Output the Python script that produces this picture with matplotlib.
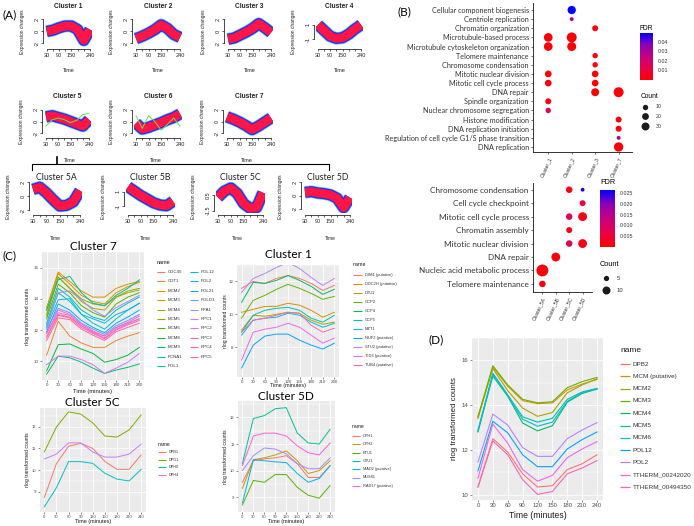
import numpy as np
import matplotlib
matplotlib.use("Agg")
import matplotlib.pyplot as plt
from matplotlib.colors import LinearSegmentedColormap, Normalize
from matplotlib.colorbar import ColorbarBase

plt.rcParams['font.family'] = ['Liberation Sans', 'DejaVu Sans']

W, H = 694, 526
fig = plt.figure(figsize=(W / 100, H / 100), dpi=100)

# overlay in pixel coords for labels / legends
ov = fig.add_axes([0, 0, 1, 1], zorder=10)
ov.set_xlim(0, W)
ov.set_ylim(H, 0)
ov.axis('off')


def px_axes(x0, y0, x1, y1):
    return fig.add_axes([x0 / W, 1 - y1 / H, (x1 - x0) / W, (y1 - y0) / H])


def gg_hue(n):
    # ggplot2 default hue palette (hcl, l=65, c=100)
    cols = []
    for h in np.linspace(15, 375, n + 1)[:-1]:
        L, C = 65.0, 100.0
        u, v = C * np.cos(np.radians(h)), C * np.sin(np.radians(h))
        Y = ((L + 16) / 116) ** 3
        up, vp = u / (13 * L) + 0.19784, v / (13 * L) + 0.46834
        X = Y * 9 * up / (4 * vp)
        Z = Y * (12 - 3 * up - 20 * vp) / (4 * vp)
        rgb = np.array([3.2406 * X - 1.5372 * Y - 0.4986 * Z,
                        -0.9689 * X + 1.8758 * Y + 0.0415 * Z,
                        0.0557 * X - 0.2040 * Y + 1.0570 * Z])
        rgb = np.where(rgb > 0.0031308, 1.055 * np.abs(rgb) ** (1 / 2.4) - 0.055, 12.92 * rgb)
        cols.append(tuple(np.clip(rgb, 0, 1)))
    return cols


# ================= DATA =================
# (A) mfuzz cluster centres
mf_time = [30, 60, 90, 120, 150, 180, 210, 240]
c1_prof = [0.0, 0.2, 0.6, 0.9, 0.9, 0.3, -1.5, 0.3]
c2_prof = [-1.2, -0.8, -0.3, 0.3, 1.1, 0.5, -0.5, -1.0]
c3_prof = [-1.3, -1.1, -0.6, -0.1, 0.5, 1.3, 0.6, -0.2]
c4_prof = [1.0, 0.2, -0.6, -0.9, -0.8, -0.3, 0.4, 1.0]
c5_prof = [0.8, 1.0, 0.7, 0.4, 0.0, -0.4, -0.8, 0.3]
c6_prof = [-0.3, -1.3, -1.0, -0.6, -0.2, 0.3, 0.7, 1.3]
c7_prof = [0.8, 0.4, -0.1, -0.7, -1.4, -0.8, -0.1, 0.6]
c5a_prof = [1.0, 1.3, 0.5, -0.5, -1.4, -1.3, -0.8, 0.8]
c5b_prof = [1.7, 1.1, 0.5, 0.0, -0.5, -0.8, -0.9, -0.3]
c5c_prof = [0.2, 1.0, 1.4, 0.7, -0.6, -1.2, -1.1, 0.8]
c5d_prof = [0.5, 0.6, 0.4, 0.3, 0.1, -0.4, -1.8, -0.3]
c5_green = [-0.8, 0.3, 0.6, 0.3, -0.2, 0.2, 1.2, 1.4]
c6_green = [1.0, -1.2, 1.0, 0.0, -1.5, -0.5, 0.6, -0.8]

# (B) GO enrichment dot plots
b1_terms = ['Cellular component biogenesis', 'Centriole replication', 'Chromatin organization',
            'Microtubule-based process', 'Microtubule cytoskeleton organization',
            'Telomere maintenance', 'Chromosome condensation', 'Mitotic nuclear division',
            'Mitotic cell cycle process', 'DNA repair', 'Spindle organization',
            'Nuclear chromosome segregation', 'Histone modification', 'DNA replication initiation',
            'Regulation of cell cycle G1/S phase transition', 'DNA replication']
b1_clusters = ['Cluster_1', 'Cluster_2', 'Cluster_3', 'Cluster_7']
b1_term = ['Cellular component biogenesis', 'Centriole replication', 'Chromatin organization',
           'Microtubule-based process', 'Microtubule-based process',
           'Microtubule cytoskeleton organization', 'Microtubule cytoskeleton organization',
           'Telomere maintenance', 'Chromosome condensation',
           'Mitotic nuclear division', 'Mitotic nuclear division',
           'Mitotic cell cycle process', 'Mitotic cell cycle process',
           'DNA repair', 'DNA repair', 'Spindle organization', 'Nuclear chromosome segregation',
           'Histone modification', 'DNA replication initiation',
           'Regulation of cell cycle G1/S phase transition', 'DNA replication']
b1_cl = ['Cluster_2', 'Cluster_2', 'Cluster_3', 'Cluster_1', 'Cluster_2', 'Cluster_1', 'Cluster_2',
         'Cluster_3', 'Cluster_3', 'Cluster_1', 'Cluster_3', 'Cluster_1', 'Cluster_3',
         'Cluster_3', 'Cluster_7', 'Cluster_1', 'Cluster_1', 'Cluster_7', 'Cluster_7',
         'Cluster_7', 'Cluster_7']
b1_count = [33, 2, 14, 37, 51, 37, 40, 10, 10, 19, 19, 19, 19, 30, 51, 14, 10, 14, 14, 2, 44]
b1_fdr = [0.049, 0.028, 0.002, 0.001, 0.001, 0.001, 0.001, 0.002, 0.002, 0.001, 0.001,
          0.001, 0.001, 0.001, 0.001, 0.002, 0.015, 0.002, 0.002, 0.030, 0.001]

b2_terms = ['Chromosome condensation', 'Cell cycle checkpoint', 'Mitotic cell cycle process',
            'Chromatin assembly', 'Mitotic nuclear division', 'DNA repair',
            'Nucleic acid metabolic process', 'Telomere maintenance']
b2_clusters = ['Cluster_5A', 'Cluster_5B', 'Cluster_5C', 'Cluster_5D']
b2_term = ['Chromosome condensation', 'Chromosome condensation', 'Cell cycle checkpoint',
           'Mitotic cell cycle process', 'Mitotic cell cycle process', 'Chromatin assembly',
           'Mitotic nuclear division', 'Mitotic nuclear division', 'DNA repair',
           'Nucleic acid metabolic process', 'Telomere maintenance']
b2_cl = ['Cluster_5C', 'Cluster_5D', 'Cluster_5D', 'Cluster_5C', 'Cluster_5D', 'Cluster_5C',
         'Cluster_5C', 'Cluster_5D', 'Cluster_5B', 'Cluster_5A', 'Cluster_5A']
b2_count = [7, 3, 6, 7, 12, 6, 7, 12, 12, 21, 7]
b2_fdr = [0.002, 0.026, 0.006, 0.008, 0.002, 0.002, 0.008, 0.002, 0.001, 0.0005, 0.001]

# (C)/(D) rlog transformed counts
rlog_time = [0, 30, 60, 90, 120, 150, 180, 210, 240]

c7_genes = ['CDC45', 'CDT1', 'MCM2', 'MCM3', 'MCM4', 'MCM5', 'MCM6', 'MCM8', 'MCM9', 'PCNA1',
            'POL1', 'POL12', 'POL2', 'POL21', 'POLD1', 'RFA1', 'RPC1', 'RPC2', 'RPC3', 'RPC4',
            'RPC5']
c7_rlog = [
    [11.61, 13.00, 12.83, 12.28, 11.89, 11.61, 12.17, 12.44, 12.72],
    [10.39, 12.56, 11.61, 11.17, 10.89, 10.89, 11.33, 11.61, 11.83],
    [13.44, 15.72, 15.11, 14.50, 14.11, 14.11, 14.67, 14.94, 15.11],
    [13.28, 15.61, 14.94, 14.22, 13.83, 13.67, 14.39, 14.78, 15.06],
    [13.00, 15.39, 14.67, 13.83, 13.39, 13.28, 14.11, 14.39, 14.56],
    [12.89, 15.39, 14.67, 14.00, 13.67, 13.56, 14.11, 14.50, 14.67],
    [12.72, 14.94, 14.39, 13.56, 13.11, 12.83, 13.67, 14.11, 14.39],
    [9.39, 11.06, 11.11, 10.78, 10.50, 9.94, 10.11, 10.39, 10.89],
    [9.17, 10.33, 10.22, 9.94, 9.56, 9.22, 9.44, 9.61, 9.83],
    [13.28, 15.22, 15.44, 14.39, 13.72, 13.56, 14.22, 14.67, 15.22],
    [12.44, 14.67, 14.11, 13.28, 12.83, 12.61, 13.28, 13.72, 14.11],
    [12.28, 14.39, 13.83, 13.00, 12.44, 12.06, 12.72, 13.28, 13.72],
    [12.17, 13.94, 14.00, 13.00, 12.72, 12.44, 13.00, 13.28, 13.72],
    [11.89, 13.67, 13.28, 12.61, 12.17, 11.83, 12.44, 12.83, 13.28],
    [12.06, 13.39, 13.11, 12.44, 12.06, 11.72, 12.28, 12.61, 13.00],
    [12.28, 14.39, 14.50, 13.94, 13.28, 12.89, 13.44, 13.83, 14.22],
    [9.78, 10.33, 10.33, 10.11, 9.78, 9.22, 9.56, 9.94, 10.50],
    [11.78, 13.28, 13.00, 12.28, 11.83, 11.50, 12.06, 12.39, 12.72],
    [11.83, 13.11, 12.94, 12.39, 11.94, 11.61, 12.17, 12.50, 12.89],
    [11.50, 12.94, 12.78, 12.17, 11.78, 11.44, 12.00, 12.33, 12.61],
    [11.33, 12.78, 12.67, 12.06, 11.67, 11.33, 11.89, 12.17, 12.44],
]

c1_genes = ['DIM1 (putative)', 'DDC2H (putative)', 'DTU1', 'GCP2', 'GCP4', 'GCP5', 'MZT1',
            'NUF2 (putative)', 'STU2 (putative)', 'TID3 (putative)', 'TUB4 (putative)']
c1_rlog = [
    [11.58, 12.00, 11.88, 12.18, 12.36, 12.18, 11.88, 11.45, 11.76],
    [10.12, 10.30, 10.48, 10.48, 10.67, 10.55, 10.24, 9.82, 10.12],
    [9.03, 9.94, 9.88, 10.00, 10.12, 10.06, 9.64, 9.39, 9.52],
    [9.76, 10.85, 11.15, 11.52, 11.82, 11.58, 11.27, 10.91, 11.09],
    [10.73, 11.94, 11.88, 12.06, 12.36, 12.06, 11.70, 11.21, 11.52],
    [8.91, 9.94, 10.24, 10.36, 10.42, 10.24, 9.76, 9.52, 9.94],
    [8.73, 9.64, 9.76, 9.82, 10.06, 9.94, 9.52, 9.21, 9.45],
    [6.73, 8.12, 8.67, 8.79, 8.79, 8.42, 8.12, 7.88, 8.24],
    [11.33, 12.18, 12.48, 12.85, 13.15, 12.79, 12.24, 11.76, 12.18],
    [7.21, 8.91, 9.09, 9.21, 9.45, 9.21, 8.73, 8.24, 8.55],
    [8.91, 9.64, 9.76, 9.94, 10.12, 10.06, 9.33, 8.91, 9.15],
]

c5c_genes = ['DPB1', 'DPG1', 'DPH0', 'DPH4']
c5c_rlog = [
    [8.73, 10.30, 11.10, 11.24, 11.00, 10.40, 10.03, 10.03, 10.70],
    [10.84, 12.00, 12.70, 12.60, 12.19, 11.58, 11.53, 11.86, 12.56],
    [8.29, 9.18, 10.39, 10.39, 10.31, 9.85, 9.58, 9.49, 10.03],
    [10.51, 10.74, 11.26, 11.26, 10.84, 10.60, 10.60, 10.74, 11.20],
]

c5d_genes = ['CPH1', 'CPH2', 'ETU1', 'GTU1', 'MAD2 (putative)', 'MUS81', 'RAD17 (putative)']
c5d_rlog = [
    [9.56, 10.37, 10.44, 10.48, 10.56, 10.26, 9.74, 9.74, 10.19],
    [9.33, 10.41, 10.48, 10.59, 10.74, 10.37, 9.89, 10.00, 10.37],
    [8.70, 9.63, 9.56, 9.85, 9.85, 9.37, 9.07, 8.96, 9.44],
    [10.26, 11.96, 12.07, 12.33, 12.37, 11.41, 11.04, 11.00, 11.56],
    [8.78, 10.41, 10.37, 10.33, 10.30, 9.89, 9.56, 9.70, 10.19],
    [10.00, 10.56, 10.85, 10.81, 10.63, 10.26, 10.07, 10.07, 10.48],
    [10.19, 11.30, 11.41, 11.41, 11.30, 10.93, 10.67, 10.59, 11.04],
]

d_genes = ['DPB2', 'MCM (putative)', 'MCM2', 'MCM3', 'MCM4', 'MCM5', 'MCM6', 'POL12', 'POL2',
           'TTHERM_00242020', 'TTHERM_00494350']
d_rlog = [
    [10.34, 12.50, 11.90, 10.93, 10.34, 10.40, 11.12, 11.38, 11.78],
    [13.40, 15.70, 14.85, 14.20, 14.07, 14.10, 14.68, 14.94, 15.15],
    [13.48, 15.63, 14.65, 13.87, 13.50, 13.67, 14.55, 14.90, 15.18],
    [13.48, 15.76, 14.90, 14.26, 14.10, 14.15, 14.78, 15.05, 15.24],
    [12.82, 15.30, 14.40, 13.20, 12.85, 13.08, 14.13, 14.52, 14.72],
    [12.80, 15.43, 14.46, 13.48, 13.24, 13.41, 14.26, 14.59, 14.75],
    [12.89, 15.37, 14.42, 13.37, 13.06, 13.24, 14.17, 14.56, 14.72],
    [11.06, 13.28, 12.76, 11.78, 11.25, 11.25, 12.04, 12.46, 12.80],
    [11.45, 13.60, 13.11, 12.10, 11.71, 11.71, 12.50, 12.89, 13.22],
    [10.73, 13.15, 12.30, 11.12, 10.60, 10.86, 11.65, 12.04, 12.37],
    [10.34, 12.40, 11.78, 10.67, 10.01, 10.14, 10.93, 11.19, 11.52],
]

# ================= (A) =================
TXT = '#222222'


def mf_plot(prof, title, x30, x240, ytop, ybot, ylim, yticks, bold, green=None):
    k = (x240 - x30) / 210.0
    ax = px_axes(x30 - 8.4 * k, ytop, x240 + 8.4 * k, ybot)
    ax.plot(mf_time, prof, color='#5BD0F2', lw=9.0, solid_capstyle='butt', zorder=1)
    ax.plot(mf_time, prof, color='#2A2AF2', lw=8.0, solid_capstyle='butt', zorder=2)
    ax.plot(mf_time, prof, color='#FF1646', lw=6.2, solid_capstyle='butt', zorder=3)
    if green is not None:
        ax.plot(mf_time, green, color='#66DD55', lw=0.7, zorder=4)
    ax.set_xlim(21.6, 248.4)
    ax.set_ylim(ylim)
    for s in ['top', 'right']:
        ax.spines[s].set_visible(False)
    ax.spines['left'].set_bounds(yticks[0], yticks[-1])
    ax.spines['bottom'].set_bounds(30, 240)
    for s in ['left', 'bottom']:
        ax.spines[s].set_position(('outward', 1.5))
        ax.spines[s].set_linewidth(0.5)
    ax.set_xticks(mf_time)
    ax.set_xticklabels(['30', '', '90', '', '150', '', '', '240'])
    ax.set_yticks(yticks)
    ax.set_yticklabels([('%g' % t) for t in yticks], rotation=90, va='center')
    ax.tick_params(labelsize=4, length=1.5, width=0.5, pad=1, colors=TXT)
    xc = (x30 + x240) / 2
    if bold:
        ov.text(xc, ytop - 11, title, fontsize=4.8, fontweight='bold', ha='center', va='center', color=TXT)
    else:
        ov.text(xc, ytop - 4, title, fontsize=6.3, family='Lato', ha='center', va='center', color=TXT)
    ov.text(x30 - 24, (ytop + ybot) / 2, 'Expression changes', rotation=90, fontsize=3.5,
            ha='center', va='center', color=TXT)
    return ax


row1 = [(c1_prof, 'Cluster 1', 46.7, 90.0), (c2_prof, 'Cluster 2', 136, 180),
        (c3_prof, 'Cluster 3', 228, 271), (c4_prof, 'Cluster 4', 318, 361)]
for prof, t, a, b in row1:
    if t == 'Cluster 4':
        mf_plot(prof, t, a, b, 17, 47, (-2.1, 2.1), [-1, 1], True)
    else:
        mf_plot(prof, t, a, b, 17, 47, (-2.6, 2.4), [-2, 0, 2], True)
    ov.text((a + b) / 2, 71, 'Time', fontsize=4, ha='center', va='center', color=TXT)

mf_plot(c5_prof, 'Cluster 5', 46, 89, 107, 136, (-2.5, 2.5), [-2, 0, 2], True, c5_green)
mf_plot(c6_prof, 'Cluster 6', 136, 180, 107, 136, (-2.5, 2.5), [-2, 0, 2], True, c6_green)
mf_plot(c7_prof, 'Cluster 7', 227, 271, 107, 136, (-2.5, 2.5), [-2, 0, 2], True)
for xc in [70, 156, 247]:
    ov.text(xc, 160, 'Time', fontsize=4, ha='center', va='center', color=TXT)

mf_plot(c5a_prof, 'Cluster 5A', 33, 80, 181, 213, (-2.4, 2.2), [-2, 0, 2], False)
mf_plot(c5b_prof, 'Cluster 5B', 128, 173, 181, 213, (-1.9, 2.5), [-1, 1], False)
mf_plot(c5c_prof, 'Cluster 5C', 218, 263, 181, 213, (-1.8, 2.3), [-1.5, 0.5], False)
mf_plot(c5d_prof, 'Cluster 5D', 305, 350, 181, 213, (-2.6, 2.2), [-2, 0, 2], False)
for xc in [55, 145, 237, 330]:
    ov.text(xc, 238, 'Time', fontsize=3.5, ha='center', va='center', color=TXT)

ov.plot([32, 32, 329, 329], [170, 164, 164, 170], color='k', lw=0.8)
ov.plot([57, 57], [157, 164], color='k', lw=1.2)
ov.text(3, 15, '(A)', fontsize=8.5, family='Lato', ha='left', va='center')

# ================= (B) =================
fdr_cmap = LinearSegmentedColormap.from_list(
    'fdr', ['#FF0000', '#E8004A', '#C4007E', '#8E00B6', '#0000FF'])


def go_panel(box, terms, clusters, term, cl, count, fdr, vmax, smap, fs, ylim, xlim):
    ax = px_axes(*box)
    xs = [clusters.index(c) for c in cl]
    ys = [terms.index(t) for t in term]
    ax.scatter(xs, ys, s=[smap(c) for c in count], c=fdr, cmap=fdr_cmap, vmin=0, vmax=vmax,
               linewidths=0, zorder=3)
    ax.set_xlim(xlim)
    ax.set_ylim(ylim)
    ax.set_yticks(range(len(terms)))
    ax.set_yticklabels(terms, fontsize=fs, family='Lato', color='#1A1A1A')
    ax.set_xticks(range(len(clusters)))
    ax.set_xticklabels(clusters, rotation=65, ha='right', rotation_mode='anchor',
                       fontsize=3.6, color='#555555')
    for s in ['top', 'right']:
        ax.spines[s].set_visible(False)
    for s in ['left', 'bottom']:
        ax.spines[s].set_linewidth(0.7)
        ax.spines[s].set_color('#333333')
    ax.tick_params(length=1.5, width=0.5, pad=1.5, colors='#333333')
    return ax


def size_top(c):
    return 2.07 * (3 + 0.43 * c)


def size_bot(c):
    return 2.07 * (1.78 * c - 1.8)


go_panel((533, 3, 632, 152), b1_terms, b1_clusters, b1_term, b1_cl, b1_count, b1_fdr, 0.049,
         size_top, 5.2, (15.55, -0.77), (-0.65, 3.57))
go_panel((533, 183, 592, 292), b2_terms, b2_clusters, b2_term, b2_cl, b2_count, b2_fdr, 0.0265,
         size_bot, 5.9, (7.6, -0.5), (-0.7, 3.7))
ov.text(398, 12, '(B)', fontsize=8.5, family='Lato', ha='left', va='center')

cax1 = px_axes(640, 33, 653, 80)
cb1 = ColorbarBase(cax1, cmap=fdr_cmap, norm=Normalize(0, 0.049))
cb1.set_ticks([0.01, 0.02, 0.03, 0.04])
cb1.outline.set_visible(False)
cax1.tick_params(labelsize=3.8, length=2, width=0.5, color='white', pad=1.5, labelcolor='#333333')
ov.text(640, 28, 'FDR', fontsize=4.8, ha='left', va='center')
ov.text(641, 96, 'Count', fontsize=4.8, ha='left', va='center')
for c, yy in zip([10, 20, 30], [107, 116, 126]):
    ov.scatter([645], [yy], s=size_top(c), color='#1A1A1A', linewidths=0)
    ov.text(656, yy, str(c), fontsize=3.8, ha='left', va='center', color='#333333')

cax2 = px_axes(600, 190, 615, 247)
cb2 = ColorbarBase(cax2, cmap=fdr_cmap, norm=Normalize(0, 0.0265))
cb2.set_ticks([0.005, 0.010, 0.015, 0.020, 0.025])
cb2.ax.set_yticklabels(['0.005', '0.010', '0.015', '0.020', '0.025'])
cb2.outline.set_visible(False)
cax2.tick_params(labelsize=3.8, length=2, width=0.5, color='white', pad=1.5, labelcolor='#333333')
ov.text(600, 182, 'FDR', fontsize=5.3, ha='left', va='center')
ov.text(600, 265, 'Count', fontsize=5.3, ha='left', va='center')
for c, yy in zip([5, 10], [278, 290]):
    ov.scatter([606], [yy], s=size_bot(c), color='#1A1A1A', linewidths=0)
    ov.text(617, yy, str(c), fontsize=4.2, ha='left', va='center', color='#333333')

# ================= (C) / (D) =================


def gg_panel(box, vals, ylim, yticks, tick_fs, lw):
    ax = px_axes(*box)
    cols = gg_hue(len(vals))
    for v, c in zip(vals, cols):
        ax.plot(rlog_time, v, color=c, lw=lw)
    ax.set_xlim(-12, 252)
    ax.set_ylim(ylim)
    ax.set_facecolor('#EBEBEB')
    for s in ax.spines.values():
        s.set_visible(False)
    ax.set_xticks(rlog_time)
    ax.set_yticks(yticks)
    ax.set_yticks([t + (yticks[1] - yticks[0]) / 2 for t in yticks], minor=True)
    ax.grid(True, which='major', color='white', lw=0.6)
    ax.grid(True, which='minor', axis='y', color='white', lw=0.3)
    ax.set_axisbelow(True)
    ax.tick_params(which='major', length=1.5, width=0.4, color='#333333', labelsize=tick_fs,
                   labelcolor='#4D4D4D', pad=1)
    ax.tick_params(which='minor', length=0)
    return ax, cols


def line_legend(x, ty, y, names, colors, dy, rows, colw, fs, tfs, keylen, lw):
    ov.text(x, ty, 'name', fontsize=tfs, ha='left', va='center', color='#1A1A1A')
    for i, (nm, c) in enumerate(zip(names, colors)):
        xx = x + (i // rows) * colw
        yy = y + (i % rows) * dy
        ov.plot([xx, xx + keylen], [yy, yy], color=c, lw=lw, solid_capstyle='butt')
        ov.text(xx + keylen + 3, yy, nm, fontsize=fs, ha='left', va='center', color='#333333')


def panel_titles(box, title, tsize, ty, xl_y, yl_x, lab_fs):
    xc = (box[0] + box[2]) / 2
    if title:
        ov.text(xc, ty, title, fontsize=tsize, family='Lato', ha='center', va='center')
    ov.text(xc, xl_y, 'Time (minutes)', fontsize=lab_fs, ha='center', va='center', color='#1A1A1A')
    ov.text(yl_x, (box[1] + box[3]) / 2, 'rlog transformed counts', fontsize=lab_fs * 0.92,
            rotation=90, ha='center', va='center', color='#1A1A1A')


box7 = (42, 252, 144, 380)
_, col7 = gg_panel(box7, c7_rlog, (8.8, 16.05), [10, 12, 14, 16], 3.2, 0.7)
panel_titles(box7, 'Cluster 7', 8.5, 246, 392, 28, 4.2)
line_legend(157, 262, 272, c7_genes, col7, 9.4, 11, 33, 3.2, 4.0, 8, 0.8)

box1 = (237, 265, 339, 377)
_, col1 = gg_panel(box1, c1_rlog, (6.18, 12.97), [8, 10, 12], 3.2, 0.7)
panel_titles(box1, 'Cluster 1', 8.5, 254, 386, 226, 3.9)
line_legend(353, 265, 275, c1_genes, col1, 9.0, 11, 0, 2.9, 3.8, 9, 0.8)

box5c = (39.5, 408, 146, 512)
_, col5c = gg_panel(box5c, c5c_rlog, (8.05, 12.88), [9, 10, 11, 12], 3.0, 0.7)
panel_titles(box5c, 'Cluster 5C', 8.5, 402, 521, 28, 4.0)
line_legend(158, 444, 452, c5c_genes, col5c, 7.7, 4, 0, 2.8, 3.6, 8, 0.8)

box5d = (238, 401, 334.6, 512)
_, col5d = gg_panel(box5d, c5d_rlog, (8.44, 12.62), [9, 10, 11, 12], 3.0, 0.7)
panel_titles(box5d, 'Cluster 5D', 8.5, 396, 521, 226, 4.0)
line_legend(352, 427, 436, c5d_genes, col5d, 8.3, 7, 0, 2.8, 3.6, 8, 0.8)

ov.text(3, 256, '(C)', fontsize=8.5, family='Lato', ha='left', va='center')

boxd = (472, 338, 603, 500)
_, cold = gg_panel(boxd, d_rlog, (9.76, 16.1), [10, 12, 14, 16], 4.3, 0.8)
panel_titles(boxd, None, 0, 0, 516, 455, 6.2)
line_legend(620, 351, 364, d_genes, cold, 12.3, 11, 0, 4.6, 6.0, 10, 0.9)
ov.text(429, 340, '(D)', fontsize=8.5, family='Lato', ha='left', va='center')

fig.savefig('out.png', dpi=100)
